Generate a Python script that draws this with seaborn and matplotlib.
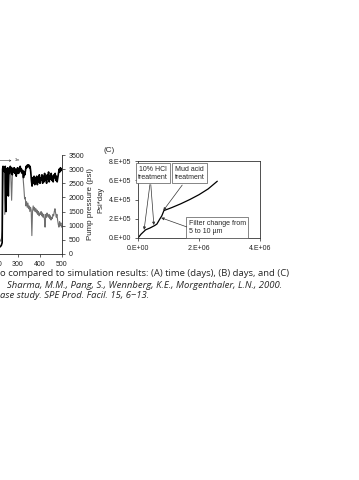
import numpy as np
import pandas as pd
import matplotlib
matplotlib.use("Agg")
import matplotlib.pyplot as plt
from matplotlib.ticker import FuncFormatter
import seaborn as sns

# ---- panel (B): pump pressure vs days (left part is cut off) ----
days_a = [218, 224, 228, 230, 232, 235, 237, 239, 242, 245,
          248, 250, 253, 256, 259, 262, 265, 268, 271, 274,
          277, 280, 283, 286, 289, 292, 295, 298, 301, 304,
          307, 310, 313, 316, 319, 322, 325, 328, 331, 334,
          337, 340, 343, 346, 349, 352, 355, 358, 361, 364,
          367, 370, 373, 376, 379, 382, 385, 388, 391, 394,
          397, 400, 403, 406, 409, 412, 415, 418, 421, 424,
          427, 430, 433, 436, 439, 442, 445, 448, 451, 454,
          457, 460, 463, 466, 469, 472, 475, 478, 481, 484,
          487, 490, 493, 496, 500]
psi_a = [250, 300, 400, 3000, 3100, 2950, 3050, 2900, 3100, 1500,
         3000, 2900, 3050, 2050, 3000, 2850, 3100, 2950, 3050, 2800,
         3000, 2900, 3050, 2850, 3000, 2750, 2950, 3050, 2850, 3000,
         2900, 3100, 2950, 3000, 2850, 2950, 2700, 2900, 2800, 2950,
         3100, 3050, 3150, 3100, 3150, 3050, 3100, 2900, 2600, 2400,
         2700, 2500, 2750, 2450, 2700, 2550, 2750, 2450, 2700, 2550,
         2800, 2500, 2700, 2600, 2800, 2500, 2750, 2550, 2850, 2600,
         2700, 2500, 2800, 2650, 2900, 2550, 2750, 2650, 2850, 2600,
         2750, 2550, 2800, 2700, 2850, 2600, 2750, 2550, 2700, 2850,
         3000, 2900, 3050, 2950, 3000]

days_b = [218, 222, 226, 229, 231, 234, 237, 240, 243, 247,
          251, 255, 259, 263, 267, 271, 275, 279, 283, 287,
          291, 295, 299, 303, 307, 311, 315, 319, 323, 327,
          330, 333, 336, 339, 342, 345, 348, 351, 354, 357,
          360, 363, 366, 369, 372, 375, 378, 381, 384, 387,
          390, 393, 396, 399, 402, 405, 408, 411, 414, 417,
          420, 423, 426, 429, 432, 435, 438, 441, 444, 447,
          450, 453, 456, 459, 462, 465, 468, 471, 474, 477,
          480, 483, 486, 489, 492, 495, 498, 500]
psi_b = [500, 450, 600, 800, 2900, 3050, 2900, 1400, 2950, 3000,
         2800, 3050, 2900, 3000, 2800, 1900, 2950, 3050, 2900, 3000,
         2800, 3000, 2900, 3050, 2850, 3000, 2900, 2950, 2700, 2300,
         1950, 2000, 1700, 1850, 1650, 1800, 1600, 1700, 1500, 1650,
         1550, 650, 1500, 1700, 1550, 1650, 1500, 1600, 1450, 1550,
         1400, 1500, 1350, 1450, 1400, 1500, 1350, 1450, 1300, 1400,
         1250, 950, 1400, 1300, 1450, 1350, 1300, 1400, 1250, 1350,
         1200, 1300, 1250, 1400, 1350, 1500, 1600, 1450, 1300, 1400,
         1200, 1050, 950, 1150, 1000, 1100, 950, 1000]

# ---- panel (C): Psi*day vs cumulative ----
cum_x = [0, 0.1e6, 0.25e6, 0.4e6, 0.55e6, 0.62e6, 0.72e6, 0.78e6,
         0.85e6, 1.1e6, 1.4e6, 1.7e6, 2.0e6, 2.3e6, 2.6e6]
psi_day = [0, 0.4e5, 0.85e5, 1.05e5, 1.3e5, 1.45e5, 2.0e5, 2.3e5,
           2.85e5, 3.15e5, 3.55e5, 4.0e5, 4.5e5, 5.1e5, 5.9e5]

caption = [
    "o compared to simulation results: (A) time (days), (B) days, and (C)",
    "Sharma, M.M., Pang, S., Wennberg, K.E., Morgenthaler, L.N., 2000.",
    "ase study. SPE Prod. Facil. 15, 6\u221213.",
]

sns.set_style("ticks")
plt.rcParams["font.family"] = ["Liberation Sans", "DejaVu Sans"]
plt.rcParams["axes.linewidth"] = 0.6

W, H = 359, 480
fig = plt.figure(figsize=(W / 100, H / 100), dpi=100)


def box(l, t, r, b):
    return [l / W, 1 - b / H, (r - l) / W, (b - t) / H]


tick_fs = 5.0

# panel B
axb = fig.add_axes(box(-48, 155, 62, 254))
dfa = pd.DataFrame({"day": days_a, "psi": psi_a})
dfb = pd.DataFrame({"day": days_b, "psi": psi_b})
sns.lineplot(data=dfb, x="day", y="psi", ax=axb, color="#707070", lw=0.8)
sns.lineplot(data=dfa, x="day", y="psi", ax=axb, color="black", lw=1.2)
axb.set_xlim(0, 500)
axb.set_ylim(0, 3500)
axb.set_xticks(range(0, 501, 100))
axb.set_yticks(range(0, 3501, 500))
axb.yaxis.tick_right()
axb.yaxis.set_label_position("right")
axb.spines["top"].set_visible(False)
axb.spines["left"].set_visible(False)
axb.spines["right"].set_visible(True)
axb.tick_params(labelsize=tick_fs, length=2, width=0.5, pad=3, colors="#222")
axb.set_xlabel("")
axb.set_ylabel("Pump pressure (psi)", fontsize=5.8, labelpad=2)
axb.annotate("", xy=(283, 3300), xytext=(150, 3300),
             arrowprops=dict(arrowstyle="<->", lw=0.4, color="#333",
                             mutation_scale=3))
axb.text(286, 3330, "3m", fontsize=2.8, color="#333", va="center")

# panel C
axc = fig.add_axes(box(138, 161, 260, 238))
dfc = pd.DataFrame({"cum": cum_x, "pd": psi_day})
sns.lineplot(data=dfc, x="cum", y="pd", ax=axc, color="black", lw=0.9)
axc.set_xlim(0, 4e6)
axc.set_ylim(0, 8e5)
axc.set_xticks([0, 2e6, 4e6])
axc.set_yticks([0, 2e5, 4e5, 6e5, 8e5])


def sci(v, pos):
    if v == 0:
        return "0.E+00"
    e = int(np.floor(np.log10(abs(v))))
    return f"{v / 10 ** e:.0f}.E+{e:02d}"


axc.xaxis.set_major_formatter(FuncFormatter(sci))
axc.yaxis.set_major_formatter(FuncFormatter(sci))
for s in axc.spines.values():
    s.set_visible(True)
    s.set_color("#333")
axc.tick_params(labelsize=tick_fs, length=2, width=0.5, pad=3, colors="#222")
axc.set_xlabel("")
axc.set_ylabel("Psi*day", fontsize=5.5, labelpad=3)
fig.text(103 / W, 1 - 150 / H, "(C)", fontsize=5.8, va="center", ha="left")

bb = dict(boxstyle="square,pad=0.35", fc="white", ec="#555", lw=0.5)
ap = dict(arrowstyle="-|>", lw=0.5, color="#333", mutation_scale=4,
          shrinkA=0, shrinkB=0)
axc.text(0.49e6, 6.75e5, "10% HCl\ntreatment", fontsize=5, ha="center",
         va="center", bbox=bb, linespacing=1.2)
axc.text(1.7e6, 6.75e5, "Mud acid\ntreatment", fontsize=5, ha="center",
         va="center", bbox=bb, linespacing=1.2)
axc.text(1.66e6, 1.08e5, "Filter change from\n5 to 10 \u00b5m", fontsize=5,
         ha="left", va="center", bbox=bb, linespacing=1.3)
axc.annotate("", xy=(0.2e6, 0.85e5), xytext=(0.39e6, 5.55e5), arrowprops=ap)
axc.annotate("", xy=(0.52e6, 1.35e5), xytext=(0.42e6, 5.55e5), arrowprops=ap)
axc.annotate("", xy=(0.83e6, 2.85e5), xytext=(1.45e6, 5.5e5), arrowprops=ap)
axc.annotate("", xy=(0.76e6, 2.1e5), xytext=(1.6e6, 1.15e5), arrowprops=ap)

# caption
cap_y = [274, 285, 296]
cap_x = [0, 7, 0]
for i, line in enumerate(caption):
    fig.text(cap_x[i] / W, 1 - cap_y[i] / H, line, fontsize=6.8,
             family=["Open Sans", "DejaVu Sans"],
             style="normal" if i == 0 else "italic", va="center", ha="left")

fig.savefig("out.png", dpi=100)
